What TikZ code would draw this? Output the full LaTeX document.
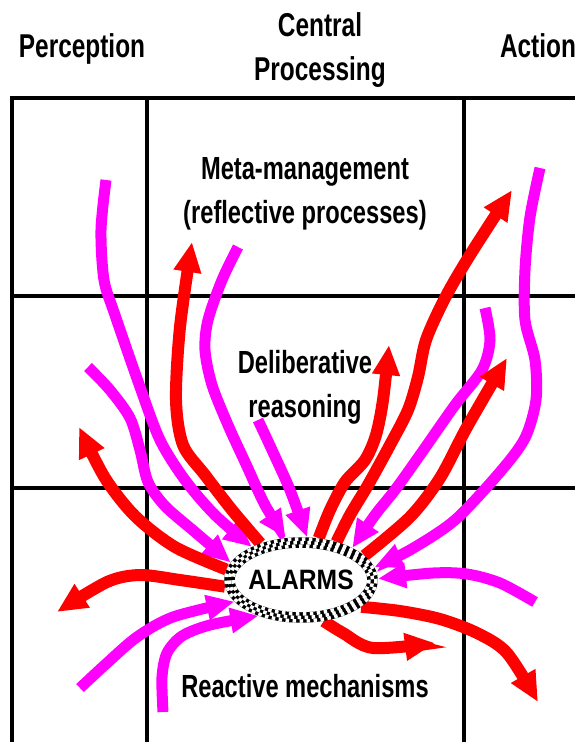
\documentclass[tikz,border=0pt]{standalone}
\usepackage{fontspec}
\newfontfamily\layerfont{Liberation Sans}[FakeStretch=0.74]
\newfontfamily\alarmfont{Liberation Sans}[FakeStretch=0.88]
\usepackage{xcolor}
\usepackage{tikz}
\usetikzlibrary{arrows.meta,shapes.geometric}
\definecolor{AlarmRed}{HTML}{FF0000}
\definecolor{AlarmMagenta}{HTML}{FF00FF}
\tikzset{
  gridline/.style={draw=black, line width=4.6pt},
  headtext/.style={
    font=\layerfont\bfseries\fontsize{33}{44}\selectfont,
    align=center,
    inner sep=0pt,
    anchor=base
  },
  layertext/.style={
    font=\layerfont\bfseries\fontsize{32}{44}\selectfont,
    align=center,
    inner sep=0pt,
    anchor=base
  },
  alarmnode/.style={
    ellipse,
    fill=white,
    minimum width=154pt,
    minimum height=86pt,
    inner sep=0pt,
    outer sep=0pt,
    font=\alarmfont\bfseries\fontsize{28}{30}\selectfont
  },
  redflow/.style={draw=AlarmRed, line width=12pt, -{Triangle[length=30pt, width=26pt]}},
  magflow/.style={draw=AlarmMagenta, line width=11pt, -{Triangle[length=28pt, width=24pt]}},
  ringbase/.style={draw=black, line width=10.5pt},
  ringcheck/.style={draw=white, line width=3.5pt, dash pattern=on 3.5pt off 3.5pt}
}

\begin{document}
\begin{tikzpicture}[x=1pt, y=-1pt]
  \useasboundingbox (0,0) rectangle (575,742);
  \clip (0,0) rectangle (575,742);

  % grid of columns and layers
  \draw[gridline] (12,742) -- (12,98) -- (575,98);
  \draw[gridline] (147,98) -- (147,742);
  \draw[gridline] (464,98) -- (464,742);
  \draw[gridline] (12,296) -- (575,296);
  \draw[gridline] (12,488) -- (575,488);

  \node[headtext] (perc) at (82,57) {Perception};
  \node[headtext] (cent) at (320,80) {Central\\Processing};
  \node[headtext] (act) at (538,57) {Action};

  \node[layertext] (meta) at (305,223) {Meta-management\\(reflective processes)};
  \node[layertext] (delib) at (305,417) {Deliberative\\reasoning};
  \node[layertext] (react) at (305,697) {Reactive mechanisms};

  \node[alarmnode] (alarms) at (301,580) {ALARMS};

  % free ends
  \coordinate (r1) at (79,427);
  \coordinate (r2) at (57,612);
  \coordinate (r3) at (192,242);
  \coordinate (r4) at (389,345);
  \coordinate (r5) at (512,190);
  \coordinate (r6) at (507,358);
  \coordinate (r7) at (538,702);
  \coordinate (r8) at (435,643);
  \coordinate (m1) at (106,180);
  \coordinate (m2) at (88,367);
  \coordinate (m3) at (238,247);
  \coordinate (m4) at (258,420);
  \coordinate (m5) at (485,308);
  \coordinate (m6) at (540,168);
  \coordinate (m7) at (535,602);
  \coordinate (m8) at (80,688);
  \coordinate (m9) at (163,712);

  % signals into the alarm system
  \draw[magflow] plot[smooth] coordinates {(m1) (101,230) (104,280) (115,315) (140,387) (160,440) (185,480) (215,515) (alarms.146)};
  \draw[magflow] plot[smooth] coordinates {(m2) (110,390) (130,418) (140,450) (148,482) (165,506) (195,532) (alarms.166)};
  \draw[magflow] plot[smooth] coordinates {(m3) (222,280) (208,320) (205,350) (212,385) (228,425) (245,462) (265,505) (alarms.110)};
  \draw[magflow] plot[smooth] coordinates {(m4) (272,450) (290,490) (alarms.82)};
  \draw[magflow] plot[smooth] coordinates {(m5) (490,340) (482,370) (455,405) (420,455) (395,490) (375,515) (alarms.32)};
  \draw[magflow] plot[smooth] coordinates {(m6) (530,217) (525,270) (525,320) (535,360) (536,400) (525,438) (500,472) (455,520) (410,550) (alarms.10)};
  \draw[magflow] plot[smooth] coordinates {(m7) (500,583) (467,574) (433,573) (alarms.1)};
  \draw[magflow] plot[smooth] coordinates {(m8) (107,663) (137,637) (173,617) (alarms.198)};
  \draw[magflow] plot[smooth] coordinates {(m9) (162,677) (167,653) (182,636) (210,625) (alarms.220)};

  % signals out of the alarm system
  \draw[redflow] plot[smooth] coordinates {(alarms.172) (175,547) (135,516) (105,478) (r1)};
  \draw[redflow] plot[smooth] coordinates {(alarms.185) (180,580) (140,575) (107,582) (r2)};
  \draw[redflow] plot[smooth] coordinates {(alarms.138) (232,510) (205,475) (183,445) (176,400) (180,327) (r3)};
  \draw[redflow] plot[smooth] coordinates {(alarms.67) (330,510) (345,482) (365,460) (376,435) (383,400) (r4)};
  \draw[redflow] plot[smooth] coordinates {(alarms.47) (350,515) (368,485) (390,445) (408,410) (418,377) (426,340) (445,298) (470,255) (r5)};
  \draw[redflow] plot[smooth] coordinates {(alarms.21) (410,517) (440,478) (467,427) (r6)};
  \draw[redflow] plot[smooth] coordinates {(alarms.336) (400,611) (440,619) (477,633) (507,653) (r7)};
  \draw[redflow] plot[smooth] coordinates {(alarms.299) (343,633) (373,648) (r8)};

  % woven border of the alarm node
  \draw[ringbase] (alarms.center) ellipse [x radius=71.5, y radius=37.5];
  \draw[ringcheck] (alarms.center) ellipse [x radius=68, y radius=34];
  \draw[ringcheck, dash phase=3.5pt] (alarms.center) ellipse [x radius=71.5, y radius=37.5];
  \draw[ringcheck] (alarms.center) ellipse [x radius=75, y radius=41];
\end{tikzpicture}
\end{document}
